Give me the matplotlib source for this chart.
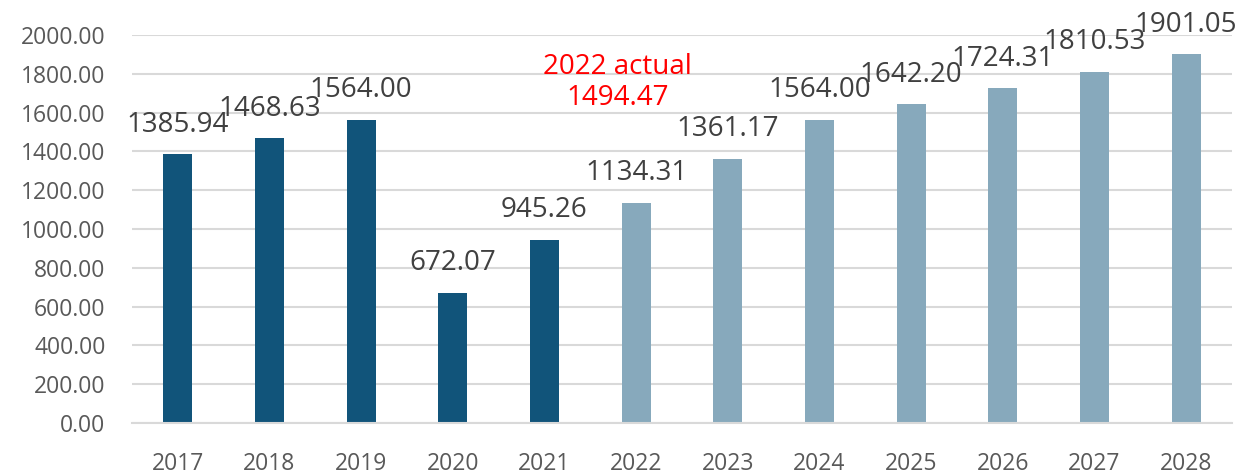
import matplotlib
matplotlib.use("Agg")
import matplotlib.pyplot as plt
import numpy as np

years = ["2017", "2018", "2019", "2020", "2021", "2022", "2023",
         "2024", "2025", "2026", "2027", "2028"]
values = [1385.94, 1468.63, 1564.00, 672.07, 945.26, 1134.31, 1361.17,
          1564.00, 1642.20, 1724.31, 1810.53, 1901.05]
actual_year = "2022"
actual_value = 1494.47
n_actual = 5  # first five years are actuals, rest are forecast

plt.rcParams['font.family'] = ['Open Sans', 'DejaVu Sans']

dark = "#11547A"
light = "#87A9BC"
grid_col = "#D9D9D9"

fig = plt.figure(figsize=(12.53, 4.74), dpi=100)
ax = fig.add_axes([132 / 1253, 51 / 474, 1100 / 1253, 388 / 474])

x = np.arange(len(years))
colors = [dark if i < n_actual else light for i in range(len(years))]
bars = ax.bar(x, values, width=0.315, color=colors, zorder=2)

for xi, v in zip(x, values):
    ax.text(xi, v + 80, f"{v:.2f}", ha="center", va="bottom",
            fontsize=20, color="#404040", zorder=3)

ai = years.index(actual_year)
ax.text(ai - 0.2, 1755, f"{actual_year} actual\n{actual_value:.2f}", ha="center",
        va="center", fontsize=20, color="#FF0000", linespacing=1.15, zorder=3)

ax.set_xlim(-0.5, len(years) - 0.5)
ax.set_ylim(0, 2000)
ax.set_yticks(np.arange(0, 2001, 200))
ax.set_yticklabels([f"{t:.2f}" for t in np.arange(0, 2001, 200)])
ax.set_xticks(x)
ax.set_xticklabels(years)

ax.yaxis.grid(True, color=grid_col, linewidth=1.5, zorder=0)
ax.set_axisbelow(True)
for s in ["top", "right", "left"]:
    ax.spines[s].set_visible(False)
ax.spines["bottom"].set_color(grid_col)
ax.spines["bottom"].set_linewidth(1.5)
ax.tick_params(axis="both", length=0, labelsize=16.5, colors="#595959")
ax.tick_params(axis="y", pad=19)
ax.tick_params(axis="x", pad=21)

fig.savefig("out.png", dpi=100)
